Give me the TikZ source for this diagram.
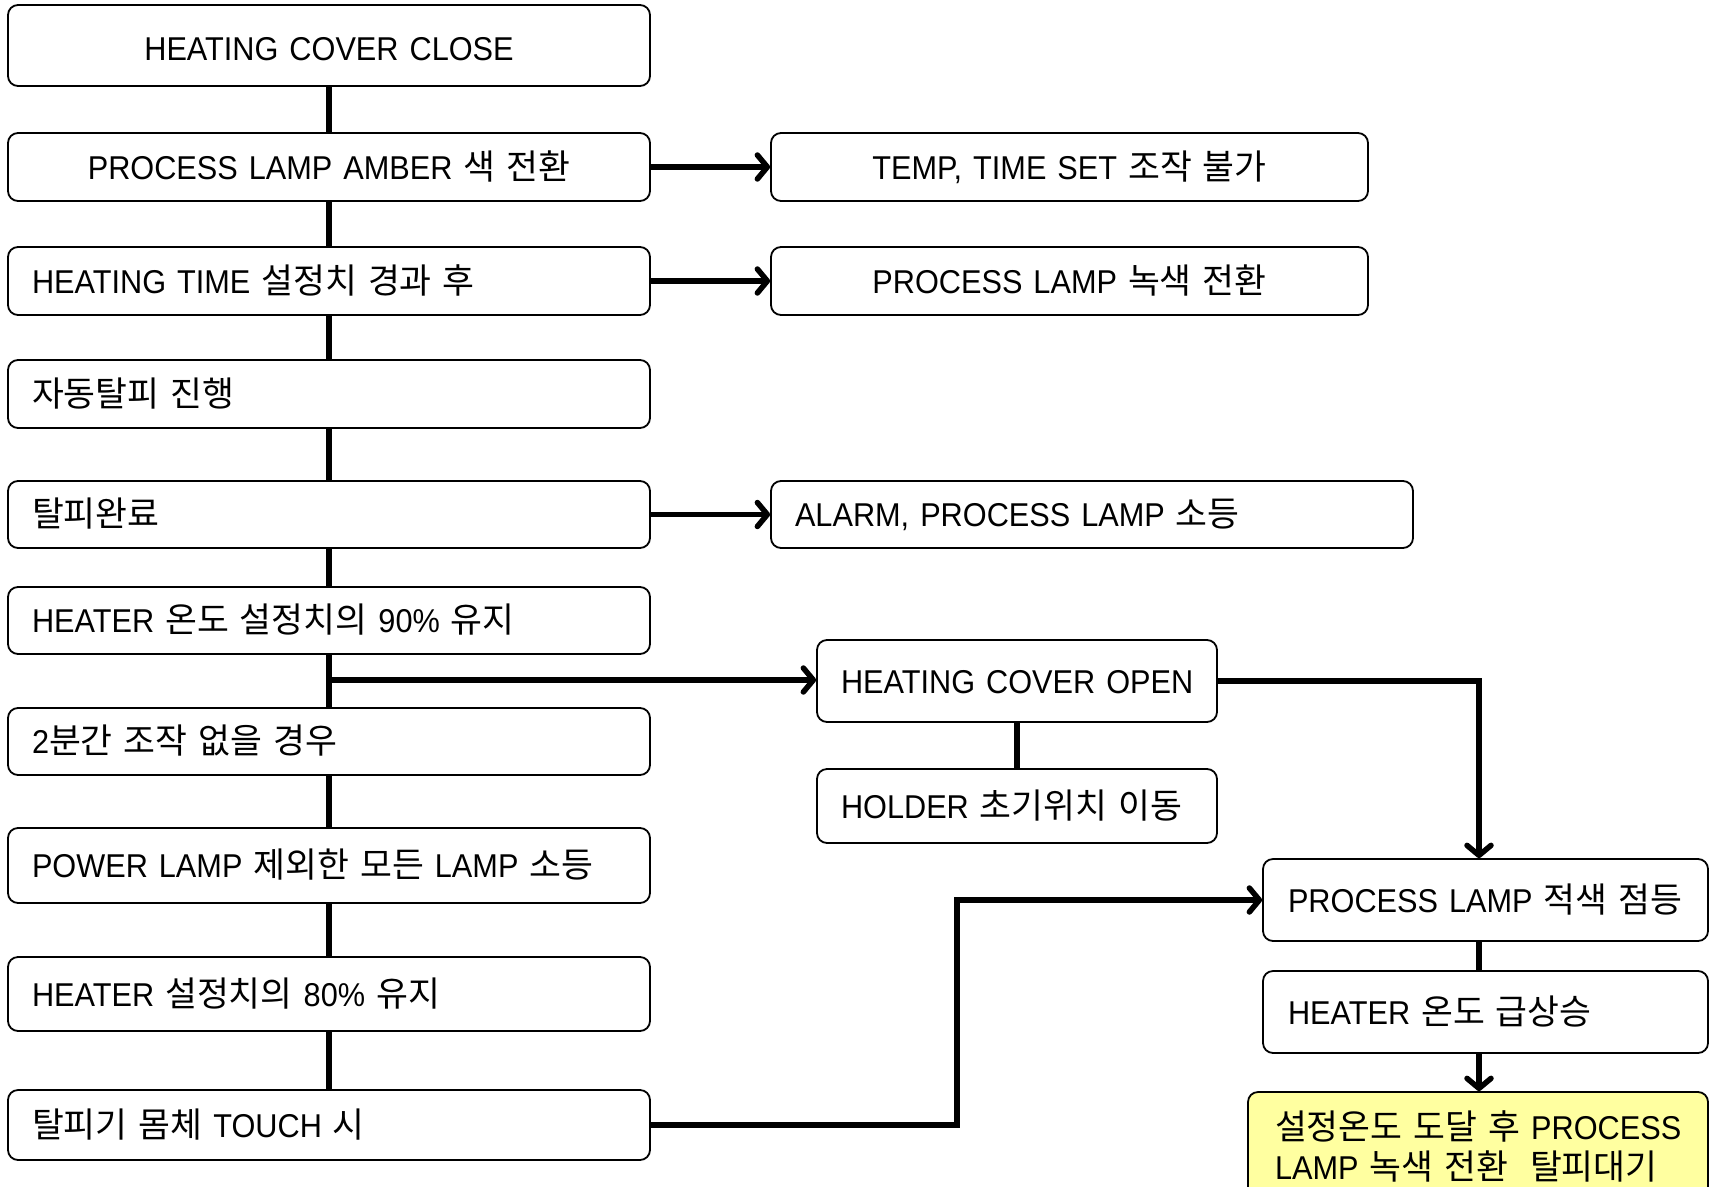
\documentclass[tikz,border=0pt]{standalone}
\usepackage{fontspec}
\setmainfont[FakeStretch=0.93]{Liberation Sans}
\newfontfamily\kr[Scale=1.05]{Noto Sans CJK KR}
\usetikzlibrary{arrows.meta}
\definecolor{paleyellow}{RGB}{255,255,160}
\begin{document}
\begin{tikzpicture}[x=1pt,y=-1pt,
  base/.style={draw, line width=1.8pt, rounded corners=10pt, inner xsep=24pt, inner ysep=0pt,
    font=\fontsize{33}{40}\selectfont, align=left},
  box/.style={base, text height=27pt, text depth=3pt},
  ctr/.style={align=center},
  conn/.style={line width=5.5pt},
  arr/.style={line width=5.5pt, -{Straight Barb[length=10pt,width=24pt,round]}}]
\useasboundingbox (0,0) rectangle (1715,1186);

% left column
\node[box, ctr, text height=30pt, text depth=0pt, minimum width=642pt, minimum height=81pt, text width=594pt] (b1) at (329,45.5) {HEATING COVER CLOSE};
\node[box, ctr, minimum width=642pt, minimum height=68pt, text width=594pt] (b2) at (329,167) {PROCESS LAMP AMBER {\kr 색 전환}};
\node[box, minimum width=642pt, minimum height=68pt, text width=594pt] (b3) at (329,281) {HEATING TIME {\kr 설정치 경과 후}};
\node[box, minimum width=642pt, minimum height=68pt, text width=594pt] (b4) at (329,394) {{\kr 자동탈피 진행}};
\node[box, minimum width=642pt, minimum height=67pt, text width=594pt] (b5) at (329,514.5) {{\kr 탈피완료}};
\node[box, minimum width=642pt, minimum height=67pt, text width=594pt] (b6) at (329,620.5) {HEATER {\kr 온도 설정치의} 90\% {\kr 유지}};
\node[box, minimum width=642pt, minimum height=67pt, text width=594pt] (b7) at (329,741.5) {2{\kr 분간 조작 없을 경우}};
\node[box, minimum width=642pt, minimum height=75pt, text width=594pt] (b8) at (329,865.5) {POWER LAMP {\kr 제외한 모든} LAMP {\kr 소등}};
\node[box, minimum width=642pt, minimum height=74pt, text width=594pt] (b9) at (329,994) {HEATER {\kr 설정치의} 80\% {\kr 유지}};
\node[box, minimum width=642pt, minimum height=70pt, text width=594pt] (b10) at (329,1125) {{\kr 탈피기 몸체} TOUCH {\kr 시}};

% right boxes
\node[box, ctr, minimum width=597pt, minimum height=68pt, text width=549pt] (r1) at (1069.5,167) {TEMP, TIME SET {\kr 조작 불가}};
\node[box, ctr, minimum width=597pt, minimum height=68pt, text width=549pt] (r2) at (1069.5,281) {PROCESS LAMP {\kr 녹색 전환}};
\node[box, minimum width=642pt, minimum height=67pt, text width=594pt] (r3) at (1092,514.5) {ALARM, PROCESS LAMP {\kr 소등}};
\node[box, inner xsep=24pt, minimum width=400pt, minimum height=82pt, text width=352pt] (c1) at (1017,681) {\mbox{HEATING COVER OPEN}};
\node[box, inner xsep=24pt, minimum width=400pt, minimum height=74pt, text width=352pt] (c2) at (1017,806) {\mbox{HOLDER {\kr 초기위치 이동}}};
\node[box, inner xsep=25pt, minimum width=445pt, minimum height=82pt, text width=395pt] (d1) at (1485.5,900) {\mbox{PROCESS LAMP {\kr 적색 점등}}};
\node[box, inner xsep=25pt, minimum width=445pt, minimum height=82pt, text width=395pt] (d2) at (1485.5,1012) {\mbox{HEATER {\kr 온도 급상승}}};
\node[base, fill=paleyellow, inner xsep=27pt, minimum width=460pt, minimum height=108pt, text width=406pt] (y1) at (1478,1146) {\mbox{{\kr 설정온도 도달 후} PROCESS}\\\mbox{LAMP {\kr 녹색 전환\ \ 탈피대기}}};

% trunk
\draw[conn] (b1.south) -- (b2.north);
\draw[conn] (b2.south) -- (b3.north);
\draw[conn] (b3.south) -- (b4.north);
\draw[conn] (b4.south) -- (b5.north);
\draw[conn] (b5.south) -- (b6.north);
\draw[conn] (b6.south) -- (b7.north);
\draw[conn] (b7.south) -- (b8.north);
\draw[conn] (b8.south) -- (b9.north);
\draw[conn] (b9.south) -- (b10.north);

% side arrows
\draw[arr] (b2.east) -- (r1.west);
\draw[arr] (b3.east) -- (r2.west);
\draw[arr] (b5.east) -- (r3.west);
\coordinate (j) at (329,680);
\draw[arr] (j) -- (j -| c1.west);
\draw[conn] (c1.south) -- (c2.north);
\coordinate (k) at (1479,681);
\draw[arr] (c1.east) -- (k) -- (k |- d1.north);
\draw[conn] (k |- d1.south) -- (k |- d2.north);
\draw[arr] (k |- d2.south) -- (k |- y1.north);
\coordinate (m) at (957,1125);
\draw[arr] (b10.east) -- (m) |- (d1.west);
\end{tikzpicture}
\end{document}
